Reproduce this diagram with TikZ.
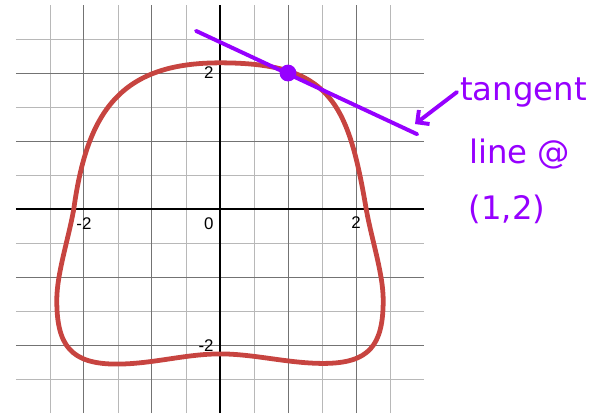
\documentclass[tikz,border=0pt]{standalone}
\usepackage{fontspec}
\usetikzlibrary{arrows.meta}
\newfontfamily\tickfont{Liberation Sans}
\newfontfamily\handfont{DejaVu Sans}
\definecolor{curvered}{RGB}{199,68,64}
\definecolor{penviolet}{RGB}{150,0,255}

\begin{document}
\begin{tikzpicture}[
    x=1.7cm, y=1.7cm,
    minor/.style = {draw=black!28, line width=0.6pt},
    major/.style = {draw=black!55, line width=0.7pt},
    axis/.style  = {draw=black, line width=1.3pt},
    tick/.style  = {font=\tickfont\fontsize{12}{14}\selectfont, inner sep=0pt},
    curve/.style = {draw=curvered, line width=3.4pt, line join=round},
    pen/.style   = {draw=penviolet, line width=2.8pt, line cap=round},
    dot/.style   = {circle, fill=penviolet, minimum size=4.2mm, inner sep=0pt},
    hand/.style  = {font=\handfont\fontsize{23}{26}\selectfont,
                    text=penviolet, inner sep=2pt},
  ]
  \useasboundingbox (-3.235,-3) rectangle (5.485,3.074);
  % grid
  \foreach \k in {-2.5,-1.5,-0.5,0.5,1.5,2.5}{
    \draw[minor] (\k,-3) -- (\k,3);
    \draw[minor] (-3,\k) -- (3,\k);}
  \foreach \k in {-2,-1,1,2}{
    \draw[major] (\k,-3) -- (\k,3);
    \draw[major] (-3,\k) -- (3,\k);}
  \draw[axis] (-3,0) -- (3,0);
  \draw[axis] (0,-3) -- (0,3);
  % tick labels
  \node[tick] (xm2) at (-2,-0.22) {-2};
  \node[tick] (xp2) at (2,-0.2)   {2};
  \node[tick, anchor=east] (o)   at (-0.09,-0.22) {0};
  \node[tick, anchor=east] (yp2) at (-0.09,2.0)   {2};
  \node[tick, anchor=east] (ym2) at (-0.09,-2.01) {-2};
  % the closed curve
  \draw[curve] (0,2.15)
    .. controls (1.6,2.15) and (1.88,1.6) .. (2.15,0)
    .. controls (2.23,-0.45) and (2.40,-0.95) .. (2.40,-1.34)
    .. controls (2.40,-2.0) and (2.2,-2.27) .. (1.52,-2.27)
    .. controls (1.0,-2.27) and (0.5,-2.13) .. (0,-2.13)
    .. controls (-0.5,-2.13) and (-1.0,-2.28) .. (-1.52,-2.28)
    .. controls (-2.2,-2.28) and (-2.40,-2.0) .. (-2.40,-1.34)
    .. controls (-2.40,-0.95) and (-2.23,-0.45) .. (-2.15,0)
    .. controls (-1.95,1.45) and (-1.45,2.15) .. (0,2.15) -- cycle;
  % tangent line at (1,2)
  \coordinate (t0) at (-0.353,2.62);
  \coordinate (t1) at (2.90,1.10);
  \draw[pen] (t0) -- (t1);
  \node[dot] (pt) at (1,2) {};
  % handwritten note
  \node[hand, anchor=base west] (ntan)  at (3.485,1.603) {tangent};
  \node[hand, anchor=base west] (nline) at (3.62,0.676)  {line @};
  \node[hand, anchor=base west] (npt)   at (3.61,-0.16)  {(1,2)};
  \coordinate (tip) at (2.868,1.25);
  \draw[pen, -{Straight Barb[length=2.2mm, width=4.4mm]}] (ntan.west) -- (tip);
\end{tikzpicture}
\end{document}
